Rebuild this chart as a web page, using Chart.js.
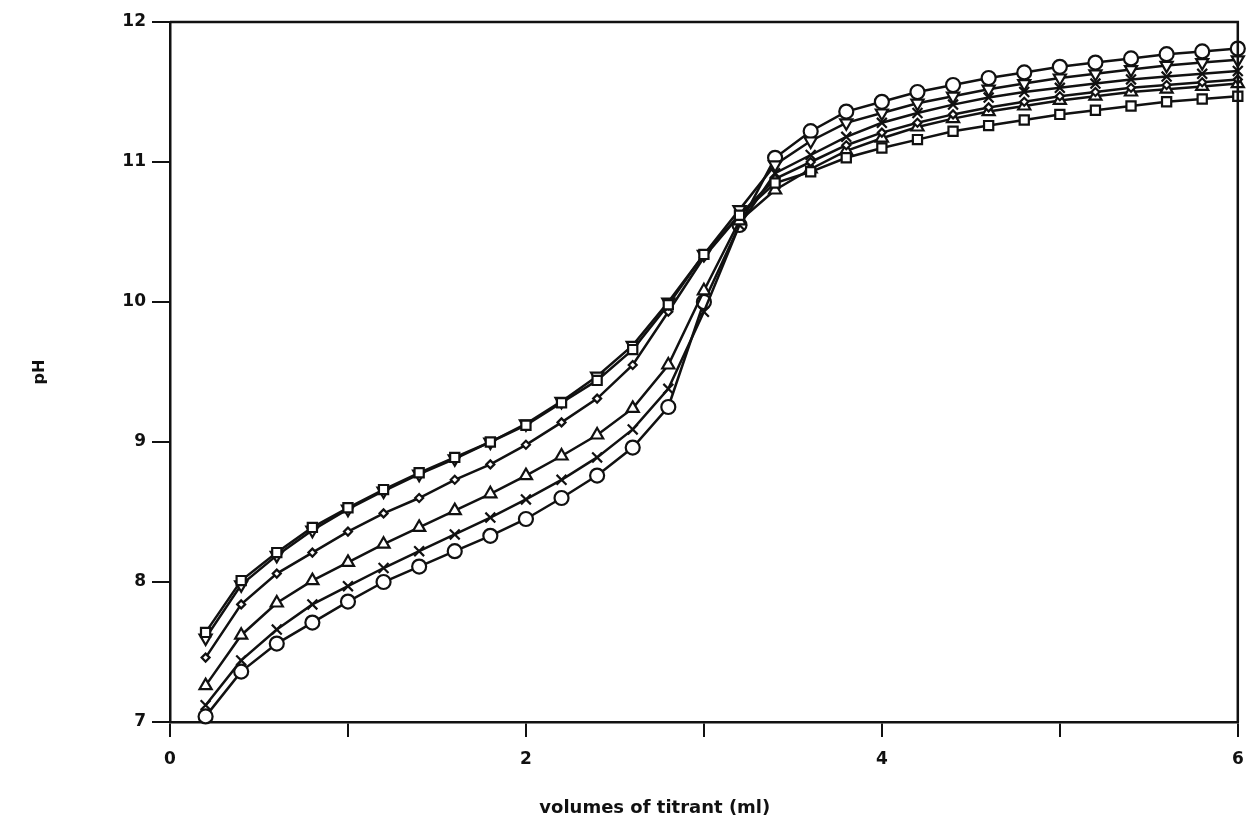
<!DOCTYPE html>
<html><head><meta charset="utf-8">
<script src="https://cdn.jsdelivr.net/npm/chart.js@4.4.0/dist/chart.umd.min.js"></script>
<style>html,body{margin:0;padding:0;background:#fff;}</style>
</head><body>
<canvas id="c" width="1247" height="830"></canvas>
<script>
const volumes = [0.2,0.4,0.6,0.8,1.0,1.2,1.4,1.6,1.8,2.0,2.2,2.4,2.6,2.8,3.0,3.2,3.4,3.6,3.8,4.0,4.2,4.4,4.6,4.8,5.0,5.2,5.4,5.6,5.8,6.0];
const phSquare   = [7.64,8.01,8.21,8.39,8.53,8.66,8.78,8.89,9.00,9.12,9.28,9.44,9.66,9.98,10.34,10.62,10.85,10.93,11.03,11.10,11.16,11.22,11.26,11.30,11.34,11.37,11.40,11.43,11.45,11.47];
const phTriDown  = [7.60,7.98,8.19,8.37,8.52,8.65,8.77,8.88,9.00,9.13,9.29,9.47,9.69,10.00,10.34,10.66,10.98,11.15,11.28,11.35,11.42,11.47,11.52,11.56,11.60,11.63,11.66,11.69,11.71,11.73];
const phDiamond  = [7.46,7.84,8.06,8.21,8.36,8.49,8.60,8.73,8.84,8.98,9.14,9.31,9.55,9.93,10.32,10.62,10.88,11.00,11.12,11.21,11.28,11.34,11.39,11.43,11.47,11.50,11.53,11.55,11.57,11.59];
const phTriUp    = [7.26,7.62,7.85,8.01,8.14,8.27,8.39,8.51,8.63,8.76,8.90,9.05,9.24,9.55,10.08,10.58,10.80,10.95,11.08,11.17,11.25,11.31,11.36,11.40,11.44,11.47,11.50,11.52,11.54,11.56];
const phCross    = [7.12,7.44,7.66,7.84,7.97,8.10,8.22,8.34,8.46,8.59,8.73,8.89,9.09,9.38,9.93,10.55,10.92,11.05,11.18,11.28,11.35,11.41,11.46,11.50,11.53,11.56,11.59,11.61,11.63,11.65];
const phCircle   = [7.04,7.36,7.56,7.71,7.86,8.00,8.11,8.22,8.33,8.45,8.60,8.76,8.96,9.25,10.00,10.55,11.03,11.22,11.36,11.43,11.50,11.55,11.60,11.64,11.68,11.71,11.74,11.77,11.79,11.81];
const xTickLabels = ['0','','2','','4','','6'];
const yTickLabels = ['7','8','9','10','11','12'];
const xTitle = 'volumes of titrant (ml)';

const FONT = '"DejaVu Sans", "Liberation Sans", sans-serif';

function mk(data, style, radius, rot) {
  return {
    data: volumes.map((v, i) => ({x: v, y: data[i]})),
    borderColor: '#111',
    borderWidth: 2.5,
    pointStyle: style,
    pointRadius: radius,
    pointRotation: rot || 0,
    pointBorderColor: '#111',
    pointBackgroundColor: '#fff',
    pointBorderWidth: 2.2,
    tension: 0,
    clip: false
  };
}

const frame = {
  id: 'frame',
  afterDraw(chart) {
    const {ctx, chartArea: a} = chart;
    ctx.save();
    ctx.strokeStyle = '#111';
    ctx.lineWidth = 2.5;
    ctx.beginPath();
    ctx.moveTo(a.left, a.top); ctx.lineTo(a.right, a.top); ctx.lineTo(a.right, a.bottom);
    ctx.stroke();
    ctx.fillStyle = '#111';
    ctx.font = 'bold 18px ' + FONT;
    ctx.textAlign = 'center';
    ctx.textBaseline = 'middle';
    ctx.fillText(xTitle, a.left + (a.right - a.left) * 0.454, 808);
    ctx.restore();
  }
};

new Chart(document.getElementById('c'), {
  type: 'line',
  data: {
    datasets: [
      mk(phSquare, 'rect', 6.5),
      mk(phTriDown, 'triangle', 7, 180),
      mk(phDiamond, 'rectRot', 4),
      mk(phTriUp, 'triangle', 7),
      mk(phCross, 'crossRot', 7),
      mk(phCircle, 'circle', 7)
    ]
  },
  options: {
    responsive: false,
    animation: false,
    devicePixelRatio: 1,
    layout: {padding: {left: 0, top: 22, right: 9, bottom: 0}},
    plugins: {legend: {display: false}, tooltip: {enabled: false}},
    scales: {
      x: {
        type: 'linear', min: 0, max: 6,
        afterFit(s) { s.height = 108; s.paddingLeft = 0; s.paddingRight = 0; },
        border: {display: true, color: '#111', width: 2.5},
        grid: {display: true, drawOnChartArea: false, drawTicks: true, tickLength: 15, color: '#111', lineWidth: 2},
        ticks: {stepSize: 1, padding: 12, color: '#111', font: {family: FONT, size: 17, weight: 'bold'},
          callback: (v) => xTickLabels[Math.round(v)] ?? ''},
        title: {display: false}
      },
      y: {
        type: 'linear', min: 7, max: 12,
        afterFit(s) { s.width = 170; s.paddingTop = 0; s.paddingBottom = 0; },
        border: {display: true, color: '#111', width: 2.5},
        grid: {display: true, drawOnChartArea: false, drawTicks: true, tickLength: 18, color: '#111', lineWidth: 2},
        ticks: {stepSize: 1, padding: 6, color: '#111', font: {family: FONT, size: 17, weight: 'bold'},
          callback: (v) => yTickLabels[Math.round(v) - 7] ?? ''},
        title: {display: true, text: 'pH', color: '#111', font: {family: FONT, size: 16, weight: 'bold'}, padding: {top: 30, bottom: 0}}
      }
    }
  },
  plugins: [frame]
});
</script>
</body></html>
